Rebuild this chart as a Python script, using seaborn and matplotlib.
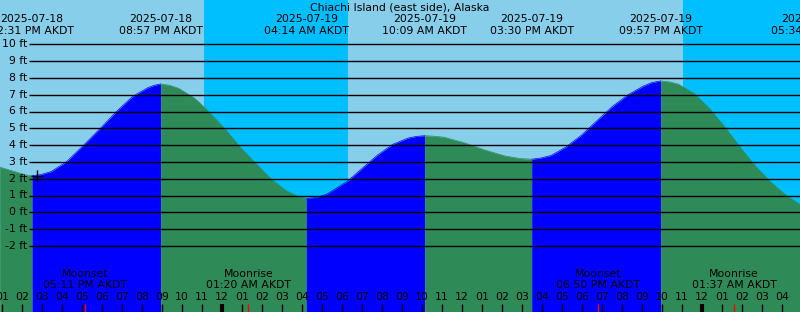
import numpy as np
import pandas as pd
import matplotlib
matplotlib.use("Agg")
import matplotlib.pyplot as plt
import seaborn as sns
from datetime import datetime, timedelta

# ---------------- data ----------------
title = "Chiachi Island (east side), Alaska"
base = datetime(2025, 7, 18)

# tide curve (hours since 2025-07-18 00:00 AKDT, feet)
curve_hours = [12.9, 13.935, 14.2, 14.517, 14.95, 15.465, 16.23, 17.1, 18.015, 18.78,
               19.55, 20.315, 20.63, 20.95, 21.4, 21.845, 22.61, 22.92, 23.375, 24.14,
               24.905, 25.67, 26.435, 27.2, 27.84, 28.233, 28.7, 29.24, 30.26,
               31.025, 31.795, 32.56, 33.325, 33.75, 34.15, 34.6, 35.11, 36.13, 37.15,
               38.17, 38.935, 39.5, 39.95, 40.465, 41.23, 41.995, 42.76, 43.525, 44.295,
               45.06, 45.5, 45.95, 46.4, 46.845, 47.61, 48.375, 49.14, 49.905, 50.67,
               51.435, 52.2, 52.93]
curve_ft = [2.69, 2.32, 2.22, 2.17, 2.24, 2.42, 3.00, 4.00, 5.10, 6.05,
            6.90, 7.42, 7.56, 7.64, 7.56, 7.38, 6.82, 6.49, 5.95, 5.00,
            3.90, 2.95, 2.02, 1.30, 0.93, 0.82, 0.88, 1.07, 1.82,
            2.62, 3.41, 4.05, 4.42, 4.52, 4.56, 4.53, 4.47, 4.14, 3.71,
            3.35, 3.20, 3.16, 3.23, 3.38, 3.90, 4.60, 5.45, 6.29, 6.98,
            7.50, 7.72, 7.82, 7.76, 7.62, 7.08, 6.19, 5.10, 3.90, 2.77,
            1.82, 1.03, 0.45]

tide_event_times = ["2025-07-18 14:31", "2025-07-18 20:57", "2025-07-19 04:14",
                    "2025-07-19 10:09", "2025-07-19 15:30", "2025-07-19 21:57",
                    "2025-07-20 05:34"]
moon_event_names = ["Moonset", "Moonrise", "Moonset", "Moonrise"]
moon_event_times = ["2025-07-18 17:11", "2025-07-19 01:20",
                    "2025-07-19 18:50", "2025-07-20 01:37"]
night_starts = ["2025-07-18 23:07", "2025-07-19 23:03"]
night_ends = ["2025-07-19 06:18", "2025-07-20 06:20"]
depth_ticks_ft = list(range(-2, 11))
now_time = "2025-07-18 14:47"
now_ft = 2.18

# ---------------- helpers / layout ----------------
def to_hours(s):
    d = datetime.strptime(s, "%Y-%m-%d %H:%M")
    return (d - base).total_seconds() / 3600.0

W, H = 800, 312
PX_PER_HOUR = 20.0
X0 = 12.915
X1 = X0 + W / PX_PER_HOUR
ZERO_PX, PX_PER_FT = 212.3, 16.8

def py(p):  # pixel row -> feet
    return (ZERO_PX - p) / PX_PER_FT

def px(p):  # pixel column -> hours
    return X0 + p / PX_PER_HOUR

Y0, Y1 = py(H), py(0)

DAY = "#87CEEB"
NIGHT = "#00BFFF"
RISE = "#0000FF"
FALL = "#2E8B57"

sns.set_style("white")
plt.rcParams["font.family"] = ["DejaVu Sans"]
FS = 7.8

fig = plt.figure(figsize=(W / 100, H / 100), dpi=100)
ax = fig.add_axes([0, 0, 1, 1])
ax.set_xlim(X0, X1)
ax.set_ylim(Y0, Y1)
ax.set_facecolor(DAY)
for s in ax.spines.values():
    s.set_visible(False)
ax.set_xticks([])
ax.set_yticks([])

for a, b in zip(night_starts, night_ends):
    ax.axvspan(to_hours(a), to_hours(b), color=NIGHT, lw=0, zorder=0)

# segments between tide extremes
ev_h = [to_hours(t) for t in tide_event_times]
bounds = [X0 - 1] + [h for h in ev_h if X0 < h < X1] + [X1 + 1]
rows = []
for i in range(len(bounds) - 1):
    a, b = bounds[i], bounds[i + 1]
    seg = [(h, v) for h, v in zip(curve_hours, curve_ft) if a - 0.01 <= h <= b + 0.01]
    phase = "rising" if seg[-1][1] > seg[0][1] else "falling"
    for h, v in seg:
        rows.append({"hour": h, "ft": v, "phase": phase, "segment": i})
df = pd.DataFrame(rows)

palette = {"rising": RISE, "falling": FALL}
for i, g in df.groupby("segment"):
    ax.fill_between(g["hour"], Y0, g["ft"], color=palette[g["phase"].iloc[0]],
                    lw=0, zorder=1)
sns.lineplot(data=df, x="hour", y="ft", hue="phase", units="segment",
             estimator=None, palette=palette, legend=False, lw=0.5, ax=ax,
             zorder=2, sort=False)
ax.set_xlabel("")
ax.set_ylabel("")
ax.set_xlim(X0, X1)
ax.set_ylim(Y0, Y1)

# depth lines and labels
ax.hlines(depth_ticks_ft, px(29), X1, color="black", lw=1.0, zorder=3)
for d in depth_ticks_ft:
    ax.text(px(27), d, f"{d} ft", ha="right", va="center", fontsize=FS,
            color="black", zorder=4)

# hour ticks and labels
tick_top = py(304)
for h in range(int(np.ceil(X0)), int(np.floor(X1)) + 1):
    lw = 3.0 if h % 24 == 0 else 1.0
    ax.vlines(h, Y0, tick_top, color="black", lw=lw, zorder=4)
    lab = (base + timedelta(hours=h)).strftime("%I")
    ax.text(h, py(297), lab, ha="center", va="center", fontsize=FS,
            color="black", zorder=4)

# moon events
for name, t in zip(moon_event_names, moon_event_times):
    h = to_hours(t)
    ax.vlines(h, Y0, tick_top, color="red", lw=1.0, zorder=4)
    d = datetime.strptime(t, "%Y-%m-%d %H:%M")
    ax.text(h, py(274), name, ha="center", va="center", fontsize=FS,
            color="black", zorder=4)
    ax.text(h, py(285.5), d.strftime("%I:%M %p AKDT"), ha="center", va="center",
            fontsize=FS, color="black", zorder=4)

# tide event labels
for t in tide_event_times:
    h = to_hours(t)
    d = datetime.strptime(t, "%Y-%m-%d %H:%M")
    ax.text(h, py(19.5), d.strftime("%Y-%m-%d"), ha="center", va="center",
            fontsize=FS, color="black", zorder=4, clip_on=False)
    ax.text(h, py(31.5), d.strftime("%I:%M %p AKDT"), ha="center", va="center",
            fontsize=FS, color="black", zorder=4, clip_on=False)

ax.text(px(400), py(7.3), title, ha="center", va="center", fontsize=FS,
        color="black", zorder=4)

# current-time mark
ax.plot([to_hours(now_time)], [now_ft], marker="+", ms=9, mew=1.0,
        color="black", zorder=5)

fig.savefig("out.png", dpi=100)
